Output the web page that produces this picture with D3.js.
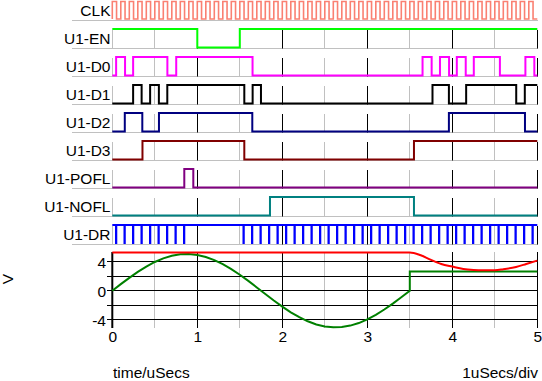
<!DOCTYPE html>
<html><head><meta charset="utf-8">
<script src="https://cdn.jsdelivr.net/npm/d3@7"></script>
<style>
html,body{margin:0;padding:0;background:#fff;overflow:hidden;}
svg{display:block;font-family:"Liberation Sans",Arial,sans-serif;}
</style></head><body>
<svg id="chart" width="542" height="381"></svg>
<script>
// ---------- data ----------
const signalNames = ["CLK","U1-EN","U1-D0","U1-D1","U1-D2","U1-D3","U1-POFL","U1-NOFL","U1-DR"];
// clock: rising edge times (us), high half-period
const clkRise = [0,0.1,0.2,0.3,0.4,0.5,0.6,0.7,0.8,0.9,1.0,1.1,1.2,1.3,1.4,1.5,1.6,1.7,1.8,1.9,
  2.0,2.1,2.2,2.3,2.4,2.5,2.6,2.7,2.8,2.9,3.0,3.1,3.2,3.3,3.4,3.5,3.6,3.7,3.8,3.9,
  4.0,4.1,4.2,4.3,4.4,4.5,4.6,4.7,4.8,4.9];
const clkHighWidth = 0.05;
// digital signals: initial level and toggle times (us)
const enInit = 1,   enEdges = [1.0, 1.5];
const d0Init = 0,   d0Edges = [0.045,0.15,0.245,0.648,0.752,1.65,3.65,3.757,3.855,3.962,4.053,4.158,4.253,4.56,4.86,4.965];
const d1Init = 0,   d1Edges = [0.245,0.345,0.445,0.548,0.647,1.553,1.651,1.749,3.767,3.96,4.163,4.752,4.853];
const d2Init = 0,   d2Edges = [0.147,0.353,0.549,1.647,3.96,4.855];
const d3Init = 0,   d3Edges = [0.355,1.553,3.549];
const poflInit = 0, poflEdges = [0.847,0.953];
const noflInit = 0, noflEdges = [1.855,3.549];
// data-ready: short low pulses (us)
const drPulses = [0.045,0.145,0.245,0.345,0.445,0.545,0.645,0.745,0.845,
  1.545,1.645,1.745,1.845,1.945,2.045,2.145,2.245,2.345,2.445,2.545,2.645,2.745,2.845,2.945,
  3.045,3.145,3.245,3.345,3.445,3.545,3.645,3.745,3.845,3.945,4.045,4.145,4.245,4.345,4.445,
  4.545,4.645,4.745,4.845,4.945];
// analog traces (V)
const greenT = [0,0.1,0.2,0.3,0.4,0.5,0.6,0.7,0.8,0.9,1.0,1.1,1.2,1.3,1.4,1.5,1.6,1.7,1.8,1.9,
  2.0,2.1,2.2,2.3,2.4,2.5,2.6,2.7,2.8,2.9,3.0,3.1,3.2,3.3,3.4,3.5,3.5,5.0];
const greenV = [0,0.9,1.77,2.59,3.32,3.95,4.45,4.8,5.0,5.04,4.92,4.64,4.21,3.65,2.97,2.19,1.35,0.45,-0.45,-1.35,
  -2.19,-2.97,-3.65,-4.21,-4.64,-4.92,-5.04,-5.0,-4.8,-4.45,-3.95,-3.32,-2.59,-1.77,-0.9,0,2.63,2.63];
const redT = [0,3.5,3.62,3.75,3.87,4.0,4.13,4.25,4.36,4.5,4.6,4.75,4.87,5.0];
const redV = [5.25,5.25,4.92,4.23,3.68,3.32,3.0,2.86,2.81,2.81,2.95,3.27,3.68,4.14];
// ticks
const xTicks = [0,1,2,3,4,5];
const yTicks = [-4,0,4];
const yGrid = [-4,-2,0,2,4];
const vGrid = [0,0.5,1,1.5,2,2.5,3,3.5,4,4.5,5];

// ---------- drawing ----------
const svg = d3.select("#chart");
const FONT = "15.5px";
const x = d3.scaleLinear().domain([0,5]).range([112.3,537.3]);
const rowBottom = d3.scaleLinear().domain([0,8]).range([20,244]);
const yA = d3.scaleLinear().domain([-5,5]).range([327.05,254.35]);
const px = v => Math.floor(v) + 0.5;

const colors = ["#FA8072","#00FF00","#FF00FF","#000000","#000080","#800000","#800080","#008080","#0000FF"];

function levelScale(i){
  const b = rowBottom(i);
  if (i === 0) return d3.scaleLinear().domain([0,1]).range([b-1, b-18.5]);
  return d3.scaleLinear().domain([0,1]).range([b-0.6, b-19]);
}

// row separators, grid and labels
const gRows = svg.append("g");
signalNames.forEach((n,i) => {
  const b = rowBottom(i);
  gRows.append("line").attr("x1",72).attr("x2",538).attr("y1",b+0.5).attr("y2",b+0.5)
    .attr("stroke","#C0C0C0").attr("stroke-width",1);
  if (i > 0) {
    vGrid.forEach(t => {
      gRows.append("line").attr("x1",px(x(t))).attr("x2",px(x(t)))
        .attr("y1",b-18).attr("y2",b+0.5)
        .attr("stroke",(t>0 && Number.isInteger(t)) ? "#000" : "#C0C0C0").attr("stroke-width",1);
    });
  }
  svg.append("text").attr("x",110.5).attr("y",b-4).attr("text-anchor","end")
    .attr("font-size",FONT).attr("fill","#000").text(n);
});

function stepPoints(init, edges){
  let cur = init; const pts = [[0,cur]];
  edges.forEach(t => { pts.push([t,cur]); cur = 1-cur; pts.push([t,cur]); });
  pts.push([5,cur]);
  return pts;
}
function drawStep(i, pts, w){
  const ls = levelScale(i);
  const line = d3.line().x(d=>x(d[0])).y(d=>ls(d[1]));
  svg.append("path").attr("d",line(pts)).attr("fill","none")
    .attr("stroke",colors[i]).attr("stroke-width",w).attr("stroke-linejoin","miter");
}
// clock
const clkPts = [[0,0]];
clkRise.forEach(t => { clkPts.push([t,0],[t,1],[t+clkHighWidth,1],[t+clkHighWidth,0]); });
clkPts.push([5,0]);
drawStep(0, clkPts, 1.6);
drawStep(1, stepPoints(enInit,enEdges), 2);
drawStep(2, stepPoints(d0Init,d0Edges), 2);
drawStep(3, stepPoints(d1Init,d1Edges), 2);
drawStep(4, stepPoints(d2Init,d2Edges), 2);
drawStep(5, stepPoints(d3Init,d3Edges), 2);
drawStep(6, stepPoints(poflInit,poflEdges), 2);
drawStep(7, stepPoints(noflInit,noflEdges), 2);
// DR
{
  const ls = levelScale(8);
  drawStep(8, [[0,1],[5,1]], 2);
  svg.append("g").selectAll("line").data(drPulses).join("line")
    .attr("x1",d=>x(d)).attr("x2",d=>x(d)).attr("y1",ls(1)).attr("y2",ls(0)+0.6)
    .attr("stroke",colors[8]).attr("stroke-width",2.3);
}

// ---------- analog panel ----------
const gA = svg.append("g");
vGrid.filter(t=>t>0).forEach(t => {
  gA.append("line").attr("x1",px(x(t))).attr("x2",px(x(t))).attr("y1",252).attr("y2",328)
    .attr("stroke",Number.isInteger(t) ? "#000" : "#C0C0C0").attr("stroke-width",1);
});
yGrid.forEach(v => {
  gA.append("line").attr("x1",107).attr("x2",538).attr("y1",px(yA(v))).attr("y2",px(yA(v)))
    .attr("stroke","#000").attr("stroke-width",1);
});
gA.append("line").attr("x1",112.3).attr("x2",112.3).attr("y1",252).attr("y2",328)
  .attr("stroke","#000").attr("stroke-width",2);

const green = greenT.map((t,k)=>[t,greenV[k]]);
const red = redT.map((t,k)=>[t,redV[k]]);
svg.append("path").attr("d",d3.line().x(d=>x(d[0])).y(d=>yA(d[1]))(green))
  .attr("fill","none").attr("stroke","#008000").attr("stroke-width",2);
svg.append("path").attr("d",d3.line().curve(d3.curveMonotoneX).x(d=>x(d[0])).y(d=>yA(d[1]))(red))
  .attr("fill","none").attr("stroke","#FF0000").attr("stroke-width",2);

// axes (labels only)
const xAxis = d3.axisBottom(x).tickValues(xTicks).tickSize(0).tickPadding(3.6).tickFormat(d => String(d));
const gx = svg.append("g").attr("transform","translate(0,327)").call(xAxis);
gx.select(".domain").remove();
gx.selectAll("text").attr("font-size",FONT).attr("font-family",null).attr("fill","#000");

const yAxis = d3.axisLeft(yA).tickValues(yTicks).tickSize(0).tickPadding(6.3).tickFormat(d => String(d));
const gy = svg.append("g").attr("transform","translate(112.3,0)").call(yAxis);
gy.select(".domain").remove();
gy.selectAll("text").attr("font-size",FONT).attr("font-family",null).attr("fill","#000").attr("dy","0.35em");

svg.append("text").attr("transform","translate(7,279) rotate(-90)").attr("text-anchor","middle")
  .attr("dominant-baseline","central").attr("font-size",FONT).text("V");
svg.append("text").attr("x",113).attr("y",377.5).attr("font-size",FONT).text("time/uSecs");
svg.append("text").attr("x",538).attr("y",377.5).attr("text-anchor","end").attr("font-size",FONT).text("1uSecs/div");
</script>
</body></html>
